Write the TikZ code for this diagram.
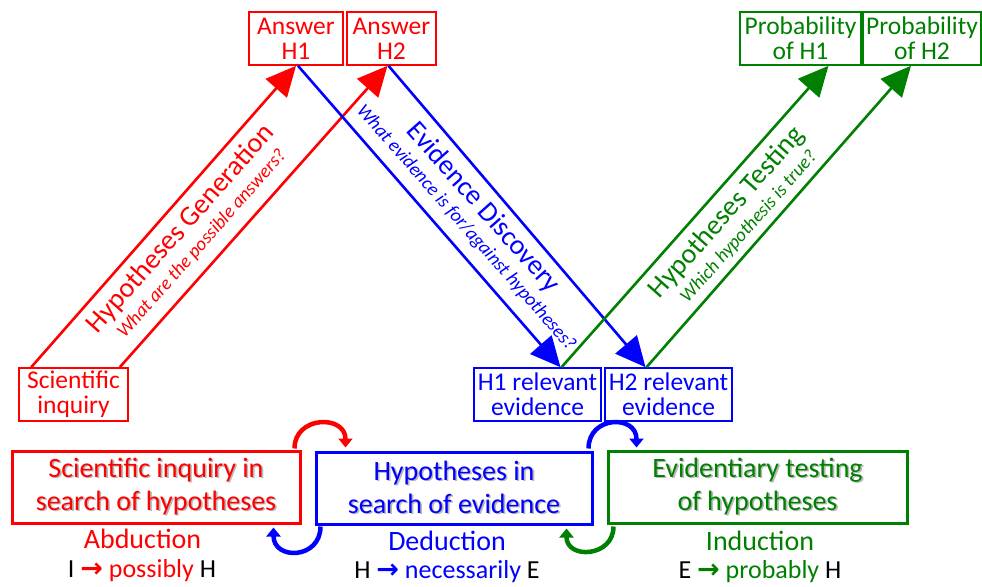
\documentclass[tikz,border=0pt]{standalone}
\usepackage{fontspec}
\setmainfont{Carlito}
\newfontfamily\arrowfont{DejaVu Sans}
\usetikzlibrary{arrows.meta,calc,shadows}

\definecolor{pred}{RGB}{255,0,0}
\definecolor{pblue}{RGB}{0,0,255}
\definecolor{pgreen}{RGB}{0,128,0}

% text with a soft grey shadow behind it
\newcommand{\shd}[1]{\rlap{\kern1.6pt\raisebox{-1.6pt}{\textcolor{black!28}{#1}}}#1}
% arrow glyph used in the inference rules
\newcommand{\rarr}{{\arrowfont\bfseries\fontsize{27}{27}\selectfont →}}

\begin{document}
\begin{tikzpicture}[x=1pt,y=-1pt,
  smallbox/.style={draw=#1, text=#1, fill=white, line width=1.6pt, inner sep=0pt,
    minimum height=53pt, align=center, font=\fontsize{25.5}{25}\selectfont},
  bigbox/.style={draw=#1, text=#1, fill=white, line width=3pt, inner sep=0pt,
    minimum height=72pt, align=center, font=\fontsize{28}{33}\selectfont,
    drop shadow={shadow xshift=2pt, shadow yshift=-2pt, opacity=0.3, fill=black}},
  flow/.style={draw=#1, line width=2.6pt, -{Triangle[length=30pt,width=28pt]}},
  cycle/.style={draw=#1, line width=4.5pt, -{Triangle[length=9pt,width=14pt]}},
  stage/.style={text=#1, font=\fontsize{28}{28}\selectfont, inner sep=0pt},
  question/.style={text=#1, font=\itshape\fontsize{19}{19}\selectfont, inner sep=0pt},
  method/.style={text=#1, font=\fontsize{28}{28}\selectfont, inner sep=0pt},
  rule/.style={font=\fontsize{26}{26}\selectfont, inner sep=0pt, text=black}
]
\useasboundingbox (0,0) rectangle (982,586);

% ---- small boxes ----
\node[smallbox=pred, minimum width=94pt]    (ans1)  at (296,38.5)   {Answer\\H1};
\node[smallbox=pred, minimum width=89pt]    (ans2)  at (391.5,38.5) {Answer\\H2};
\node[smallbox=pgreen, minimum width=121pt] (prob1) at (800.5,38.5) {Probability\\of H1};
\node[smallbox=pgreen, minimum width=118pt] (prob2) at (922,38.5)   {Probability\\of H2};
\node[smallbox=pred, minimum width=109pt]   (sci)   at (73.5,394.5) {Scientific\\inquiry};
\node[smallbox=pblue, minimum width=127pt]  (ev1)   at (537.5,394.5) {H1 relevant\\evidence};
\node[smallbox=pblue, minimum width=127pt]  (ev2)   at (668.5,394.5) {H2 relevant\\evidence};

% ---- diagonal flows ----
\draw[flow=pred]   ($(sci.north west)+(13,0)$) -- (ans1.south);
\draw[flow=pred]   ($(sci.north east)+(-9,0)$) -- ($(ans2.south)+(-4,0)$);
\draw[flow=pblue]  ($(ans1.south)+(2,0)$) -- ($(ev1.north)+(23,0)$);
\draw[flow=pblue]  ($(ans2.south)+(-3,0)$) -- ($(ev2.north)+(-23,0)$);
\draw[flow=pgreen] ($(ev1.north)+(24,0)$) -- ($(prob1.south)+(28,0)$);
\draw[flow=pgreen] ($(ev2.north)+(-22,0)$) -- ($(prob2.south)+(-11,0)$);

% ---- labels along the flows ----
\node[stage=pred, rotate=48.5]      (gen)   at (181,229) {Hypotheses Generation};
\node[question=pred, rotate=48.5]   (genq)  at (202,244) {What are the possible answers?};
\node[stage=pblue, rotate=-48.5]    (disc)  at (483,208) {Evidence Discovery};
\node[question=pblue, rotate=-48.5] (discq) at (466,228) {What evidence is for/against hypotheses?};
\node[stage=pgreen, rotate=48.5]    (test)  at (727,213) {Hypotheses Testing};
\node[question=pgreen, rotate=48.5] (testq) at (749,227) {Which hypothesis is true?};

% ---- main stages ----
\node[bigbox=pred, minimum width=288pt]   (abd) at (156,487)
  {\shd{Scientific inquiry in}\\\shd{search of hypotheses}};
\node[bigbox=pblue, minimum width=276pt]  (ded) at (454,488)
  {\shd{Hypotheses in}\\\shd{search of evidence}};
\node[bigbox=pgreen, minimum width=299pt] (ind) at (757.5,487)
  {\shd{Evidentiary testing}\\\shd{of hypotheses}};

% ---- cycling arrows between stages ----
\draw[cycle=pred]   ($(abd.north east)+(-7,-1)$) .. controls +(0,-33) and +(0,-33) .. ($(ded.north west)+(31,-3)$);
\draw[cycle=pblue]  ($(ded.south west)+(6,1)$)   .. controls +(0,33) and +(0,33) .. ($(abd.south east)+(-28,3)$);
\draw[cycle=pblue]  ($(ded.north east)+(-5,-2)$) .. controls +(0,-33) and +(0,-33) .. ($(ind.north west)+(30,-2)$);
\draw[cycle=pgreen] ($(ind.south west)+(7,2)$)   .. controls +(0,31) and +(0,31) .. ($(ded.south east)+(-27,3)$);

% ---- inference names and rules ----
\node[method=pred]   (abdn) at (142.5,539) {Abduction};
\node[rule]          (abdr) at (142,571) {I \textcolor{pred}{\rarr\ possibly} H};
\node[method=pblue]  (dedn) at (447,541) {Deduction};
\node[rule]          (dedr) at (447,572) {H \textcolor{pblue}{\rarr\ necessarily} E};
\node[method=pgreen] (indn) at (760,541) {Induction};
\node[rule]          (indr) at (760,572) {E \textcolor{pgreen}{\rarr\ probably} H};
\end{tikzpicture}
\end{document}
